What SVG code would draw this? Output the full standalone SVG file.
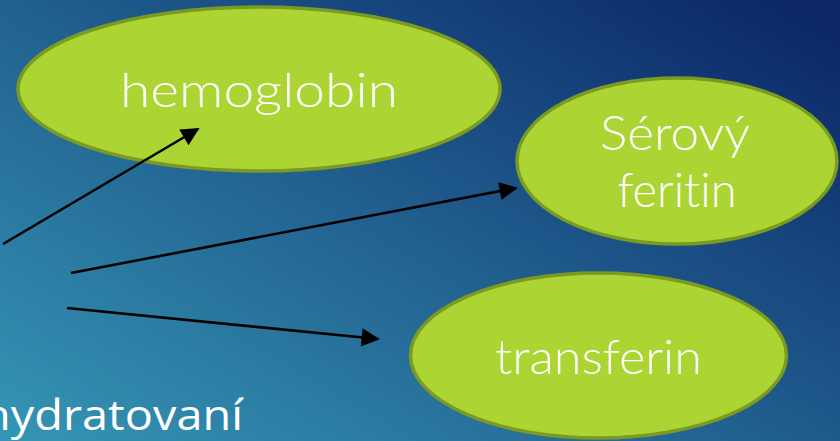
<svg xmlns="http://www.w3.org/2000/svg" width="840" height="441" viewBox="0 0 840 441">
  <defs>
    <linearGradient id="bg" x1="0" y1="1" x2="1" y2="0.1">
      <stop offset="0" stop-color="#3596b5"/>
      <stop offset="0.5" stop-color="#21608f"/>
      <stop offset="1" stop-color="#0c2869"/>
    </linearGradient>
    <marker id="arrow" viewBox="0 0 10 10" refX="9" refY="5" markerWidth="8" markerHeight="7" markerUnits="strokeWidth" orient="auto">
      <path d="M0,0 L10,5 L0,10 z" fill="#000"/>
    </marker>
    <style>
      .node { fill: #acd534; stroke: #7b9a22; stroke-width: 3.5; }
      .label { fill: #ffffff; font-family: "Lato", "Liberation Sans", sans-serif; font-weight: 300; font-size: 48px; text-anchor: middle; font-variant-ligatures: none; }
      .conn { stroke: #000; stroke-width: 2.6; fill: none; marker-end: url(#arrow); }
    </style>
  </defs>
  <rect x="0" y="0" width="840" height="441" fill="url(#bg)"/>

  <g id="node-hemoglobin">
    <ellipse class="node" cx="259" cy="89" rx="241" ry="82"/>
    <text class="label" x="259" y="107" textLength="278" lengthAdjust="spacingAndGlyphs">hemoglobin</text>
  </g>

  <g id="node-serovy-feritin">
    <ellipse class="node" cx="677" cy="161" rx="160" ry="83"/>
    <text class="label" x="675" y="150" textLength="150" lengthAdjust="spacingAndGlyphs">Sérový</text>
    <text class="label" x="677" y="207" textLength="119" lengthAdjust="spacingAndGlyphs">feritin</text>
  </g>

  <g id="node-transferin">
    <ellipse class="node" cx="598.5" cy="355.5" rx="188" ry="82.5"/>
    <text class="label" x="598.5" y="374" textLength="207" lengthAdjust="spacingAndGlyphs">transferin</text>
  </g>

  <g id="connectors">
    <line class="conn" x1="3" y1="244" x2="198" y2="129"/>
    <line class="conn" x1="71" y1="273" x2="516" y2="188"/>
    <line class="conn" x1="67" y1="308" x2="378" y2="339"/>
  </g>

  <text x="-18" y="430" fill="#ffffff" font-family="'Open Sans', 'Liberation Sans', sans-serif" font-size="42" textLength="261" lengthAdjust="spacingAndGlyphs">hydratovaní</text>
</svg>
